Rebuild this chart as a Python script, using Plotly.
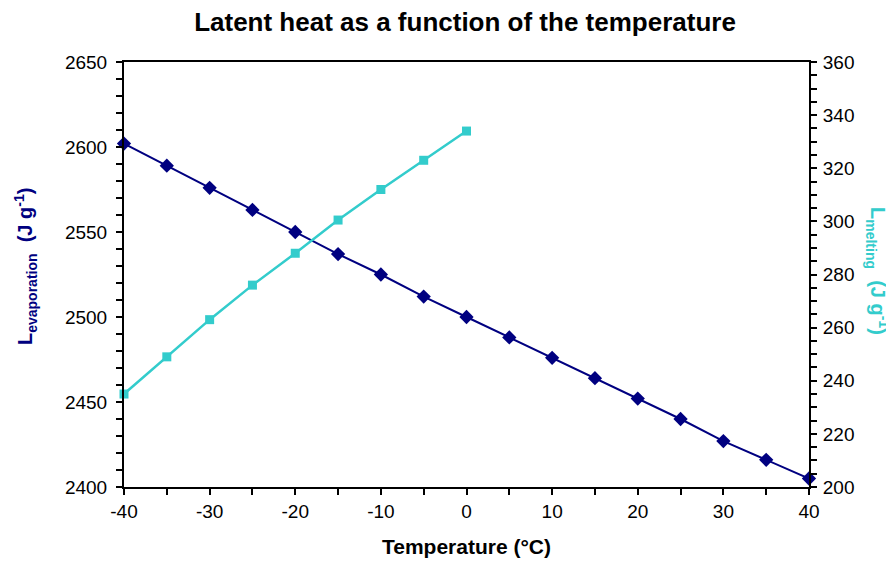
import plotly.graph_objects as go

temp_evap = [-40, -35, -30, -25, -20, -15, -10, -5, 0, 5, 10, 15, 20, 25, 30, 35, 40]
l_evap = [2602, 2589, 2576, 2563, 2550, 2537, 2525, 2512, 2500, 2488, 2476, 2464, 2452, 2440, 2427, 2416, 2405]
temp_melt = [-40, -35, -30, -25, -20, -15, -10, -5, 0]
l_melt = [235, 249, 263, 276, 288, 300.5, 312, 323, 334]

x_tick_vals = [-40, -30, -20, -10, 0, 10, 20, 30, 40]
x_tick_text = ["-40", "-30", "-20", "-10", "0", "10", "20", "30", "40"]

NAVY = "#000080"
CYAN = "#33CCCC"
FONT = "Liberation Sans, Arial, sans-serif"

# page body has an 8px margin; figure sized so it fits the window
W, H = 886, 559
L, R, T, B = 116, 85, 54, 78

fig = go.Figure()
fig.add_trace(go.Scatter(x=temp_evap, y=l_evap, mode="lines+markers",
                         line=dict(color=NAVY, width=2),
                         marker=dict(symbol="diamond", size=11, color=NAVY),
                         showlegend=False, cliponaxis=False))
fig.add_trace(go.Scatter(x=temp_melt, y=l_melt, mode="lines+markers", yaxis="y2",
                         line=dict(color=CYAN, width=2.5),
                         marker=dict(symbol="square", size=9, color=CYAN),
                         showlegend=False, cliponaxis=False))

axis_common = dict(showgrid=False, zeroline=False, showline=True, linecolor="black",
                   linewidth=2, ticks="outside", tickcolor="black", tickwidth=1.5,
                   ticklen=6, tickfont=dict(family=FONT, size=19, color="black"))
minor_common = dict(ticks="outside", ticklen=6, tickcolor="black", tickwidth=1.5)

fig.update_layout(
    width=W, height=H,
    margin=dict(l=L, r=R, t=T, b=B),
    paper_bgcolor="white", plot_bgcolor="white",
    title=dict(text="<b>Latent heat as a function of the temperature</b>",
               x=457 / W, xanchor="center", y=1 - 14 / H, yanchor="middle",
               font=dict(family=FONT, size=26, color="black")),
    xaxis=dict(range=[-40, 40], tickvals=x_tick_vals, ticktext=x_tick_text, mirror=True,
               minor=dict(dtick=5, **minor_common),
               title=dict(text="<b>Temperature (°C)</b>", font=dict(family=FONT, size=21, color="black"),
                          standoff=19),
               **axis_common),
    yaxis=dict(range=[2400, 2650], dtick=50, tick0=2400, ticklabelstandoff=5,
               minor=dict(dtick=10, **minor_common),
               **axis_common),
    yaxis2=dict(range=[200, 360], dtick=20, tick0=200, overlaying="y", side="right",
                ticklabelstandoff=2,
                minor=dict(dtick=5, **minor_common),
                **axis_common),
    annotations=[
        dict(text="<b>L<sub>evaporation</sub>  (J g<sup>-1</sup>)</b>", xref="paper", yref="paper",
             x=(25 - 124) / 685, y=1 - (268 - 62) / 427, xanchor="center", yanchor="middle",
             textangle=-90, showarrow=False,
             font=dict(family=FONT, size=20, color=NAVY)),
        dict(text="<b>L<sub>melting</sub>  (J g<sup>-1</sup>)</b>", xref="paper", yref="paper",
             x=(878 - 124) / 685, y=1 - (272 - 62) / 427, xanchor="center", yanchor="middle",
             textangle=90, showarrow=False,
             font=dict(family=FONT, size=20, color=CYAN)),
    ],
)

fig.write_html("out.html")
